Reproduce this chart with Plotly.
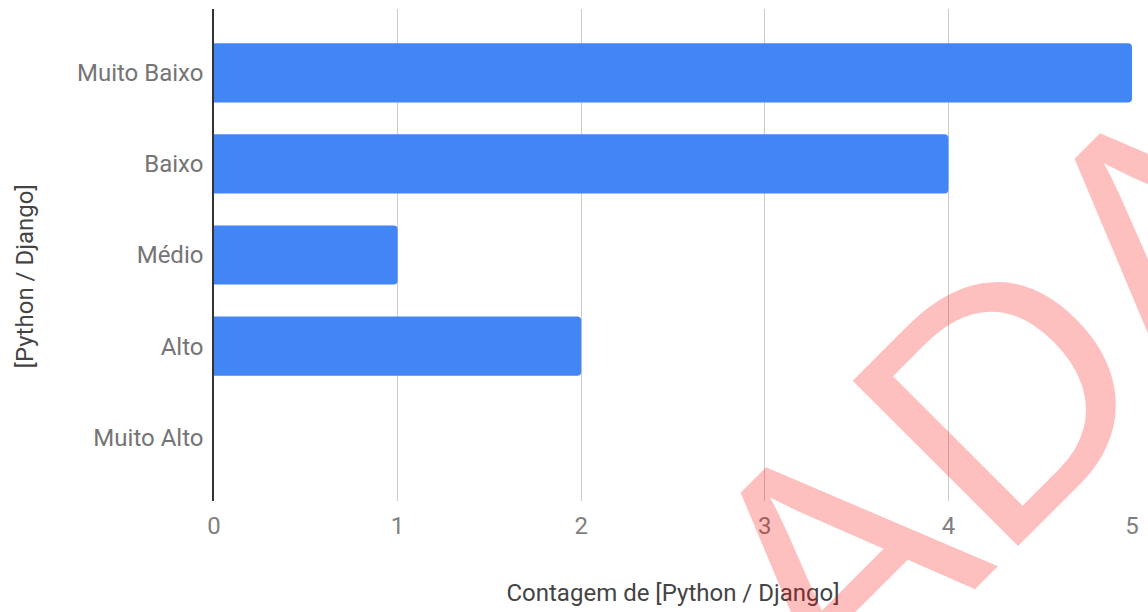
import plotly.graph_objects as go

categories = ["Muito Baixo", "Baixo", "Médio", "Alto", "Muito Alto"]
counts = [5, 4, 1, 2, 0]
x_ticks = [0, 1, 2, 3, 4, 5]
x_title = "Contagem de [Python / Django]"
y_title = "[Python / Django]"
watermark = "ADA"

FONT = "Roboto"
W, H = 1148, 612
L, R, T, B = 214, 14, 9, 111

fig = go.Figure(
    go.Bar(
        x=counts,
        y=categories,
        orientation="h",
        marker=dict(color="#4285F4", line=dict(width=0), cornerradius=4),
        width=0.65,
    )
)

fig.update_layout(
    width=W,
    height=H,
    margin=dict(l=L, r=R, t=T, b=B, pad=0),
    paper_bgcolor="white",
    plot_bgcolor="white",
    showlegend=False,
    font=dict(family=FONT, size=24, color="#757575"),
)

fig.update_xaxes(
    range=[0, 5],
    tickvals=x_ticks,
    ticktext=[str(v) for v in x_ticks],
    showgrid=True,
    gridcolor="#cccccc",
    gridwidth=1,
    zeroline=False,
    showline=False,
    ticks="",
    ticklabelstandoff=8,
    tickfont=dict(family=FONT, size=24, color="#808080"),
    title=dict(text=x_title, font=dict(family=FONT, size=24, color="#444444"), standoff=45),
)

fig.update_yaxes(
    categoryorder="array",
    categoryarray=categories,
    range=[4.7, -0.7],
    showgrid=False,
    zeroline=False,
    showline=True,
    linecolor="#333333",
    linewidth=1.5,
    ticks="",
    ticklabelstandoff=4,
    tickfont=dict(family=FONT, size=24, color="#757575"),
)

fig.add_annotation(
    text=y_title,
    xref="paper", yref="paper",
    x=(25 - L) / (W - L - R),
    y=(H - B - 276) / (H - T - B),
    textangle=-90,
    showarrow=False,
    xanchor="center", yanchor="middle",
    font=dict(family=FONT, size=24, color="#444444"),
)

fig.add_annotation(
    text=watermark,
    xref="paper", yref="paper",
    x=(1004 - L) / (W - L - R),
    y=(H - B - 395) / (H - T - B),
    textangle=-45,
    showarrow=False,
    xanchor="center", yanchor="middle",
    font=dict(family="Liberation Sans", size=340, color="rgba(250,0,0,0.25)", weight=400),
)

fig.write_html(
    "out.html",
    config={"displayModeBar": False},
    post_script="document.body.style.margin='0px';",
)
